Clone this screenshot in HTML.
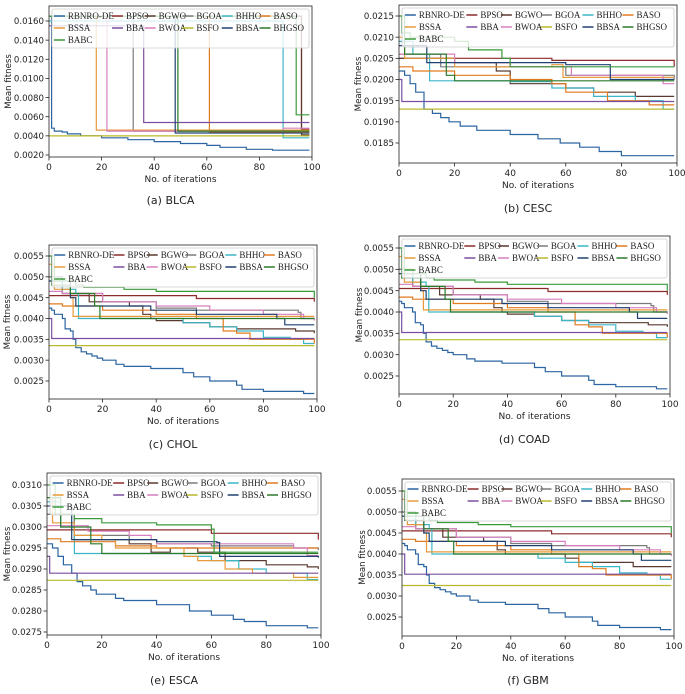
<!DOCTYPE html>
<html><head><meta charset="utf-8"><style>
body{margin:0;background:#fff;}
svg text{font-family:"DejaVu Sans","Liberation Sans",sans-serif;}
svg text.leg{font-family:"Liberation Serif",serif;}
</style></head><body>
<svg id="fig" width="685" height="689" xmlns="http://www.w3.org/2000/svg"></svg>
<script>
const names=["RBNRO-DE","BPSO","BGWO","BGOA","BHHO","BASO","BSSA","BBA","BWOA","BSFO","BBSA","BHGSO","BABC"];
const colors=["#2b64a0","#8c2b2b","#5a3a30","#7a7a7a","#3bb6c6","#e07a1f","#e89a3a","#7b4fa0","#d77fc0","#b8b82a","#1f4070","#2a7a2a","#3a9a3a"];
const xTicks=[0,20,40,60,80,100];
const yTicksA=[0.002,0.004,0.006,0.008,0.010,0.012,0.014,0.016];
const yTicksB=[0.0185,0.019,0.0195,0.02,0.0205,0.021,0.0215];
const yTicksC=[0.0025,0.003,0.0035,0.004,0.0045,0.005,0.0055];
const yTicksE=[0.0275,0.028,0.0285,0.029,0.0295,0.03,0.0305,0.031];
// series order matches names
const dataA=[
[[0,.0165],[1,.0048],[2,.0045],[5,.0044],[7,.0042],[12,.0040],[20,.0038],[30,.0036],[40,.0034],[50,.0032],[60,.0030],[65,.0028],[75,.0026],[85,.0025],[99,.0025]],
[[0,.0165],[96,.0047],[99,.0047]],
[[0,.0165],[96,.0041],[99,.0041]],
[[0,.0165],[32,.0045],[99,.0045]],
[[0,.0160],[89,.0038],[99,.0038]],
[[0,.0165],[61,.0044],[99,.0044]],
[[0,.0165],[18,.0046],[99,.0046]],
[[0,.0155],[36,.0054],[99,.0054]],
[[0,.0165],[22,.0045],[89,.0048],[99,.0048]],
[[0,.0040],[99,.0040]],
[[0,.0165],[48,.0043],[99,.0043]],
[[0,.0165],[49,.0045],[99,.0045]],
[[0,.0165],[94,.0062],[99,.0062]]];
const dataB=[
[[0,.0202],[2,.0201],[4,.0199],[6,.0197],[9,.0193],[12,.0192],[15,.0191],[18,.0190],[22,.0189],[28,.0188],[40,.0187],[50,.0186],[58,.0185],[65,.0184],[72,.0183],[80,.0182],[99,.0182]],
[[0,.0205],[55,.02045],[98,.02045],[99,.0203]],
[[0,.0205],[20,.0204],[35,.0202],[40,.0199],[60,.0198],[70,.0197],[85,.0196],[99,.0196]],
[[0,.0206],[15,.0203],[60,.0201],[75,.0201],[99,.0200]],
[[0,.0209],[5,.0206],[10,.0206],[11,.01997],[40,.01995],[55,.0198],[70,.0196],[85,.0195],[95,.0193],[99,.0193]],
[[0,.0203],[5,.0202],[20,.0201],[40,.0200],[55,.0199],[60,.0197],[75,.0195],[90,.0194],[99,.0194]],
[[0,.0210],[2,.0205],[15,.0205],[20,.0203],[55,.02035],[59,.02005],[99,.02005]],
[[0,.0200],[1,.01948],[99,.01948]],
[[0,.0206],[20,.0204],[40,.0203],[62,.0201],[95,.0199],[99,.0199]],
[[0,.0193],[99,.0193]],
[[0,.0208],[10,.0204],[40,.0204],[60,.02035],[75,.02035],[76,.0200],[99,.0200]],
[[0,.0215],[2,.0206],[16,.0206],[17,.0201],[20,.01997],[99,.01997]],
[[0,.0215],[1,.0211],[4,.0210],[20,.0209],[25,.0207],[35,.0207],[37,.0205],[40,.0203],[99,.0203]]];
const dataC=[
[[0,.00425],[1,.0042],[2,.0041],[5,.0040],[6,.00375],[8,.0037],[9,.0035],[10,.0033],[12,.0032],[14,.00315],[16,.0031],[18,.00305],[20,.0030],[25,.0029],[28,.00285],[38,.0028],[50,.0027],[54,.0026],[60,.0025],[70,.0024],[72,.0023],[80,.00225],[95,.0022],[99,.0022]],
[[0,.00455],[55,.00448],[98,.00448],[99,.0044]],
[[0,.0050],[5,.0046],[15,.0044],[30,.0043],[35,.0041],[38,.0040],[40,.00395],[50,.0039],[60,.0038],[70,.00375],[92,.0037],[99,.00365]],
[[0,.0050],[5,.0046],[20,.0044],[40,.00425],[55,.0042],[93,.00415],[94,.0040],[99,.0040]],
[[0,.0049],[5,.0047],[10,.0046],[11,.0040],[40,.0040],[50,.0039],[60,.0038],[70,.0037],[80,.00355],[90,.0035],[95,.0034],[99,.0034]],
[[0,.00435],[5,.0043],[20,.0042],[40,.0041],[55,.0040],[65,.0037],[70,.00365],[75,.0035],[90,.0035],[99,.0034]],
[[0,.0053],[2,.0047],[8,.0045],[9,.00405],[99,.00405]],
[[0,.0040],[1,.00352],[99,.00352]],
[[0,.00465],[5,.0046],[20,.0044],[40,.0043],[60,.0042],[80,.0041],[95,.0040],[99,.00395]],
[[0,.00335],[99,.00335]],
[[0,.0049],[8,.0045],[10,.0043],[35,.0043],[38,.0042],[55,.0041],[85,.0040],[88,.00385],[99,.00385]],
[[0,.0055],[1,.0048],[8,.0046],[16,.0046],[17,.0043],[19,.0040],[99,.0040]],
[[0,.0055],[2,.0049],[10,.0048],[13,.00475],[28,.0047],[40,.00465],[98,.00465],[99,.0045]]];
const dataD=[
[[0,.00425],[1,.0042],[2,.0041],[5,.0040],[6,.00375],[8,.0037],[9,.0035],[10,.0033],[12,.0032],[14,.00315],[16,.0031],[18,.00305],[20,.0030],[25,.0029],[28,.00285],[38,.0028],[50,.0027],[54,.0026],[60,.0025],[70,.0024],[72,.0023],[80,.00225],[95,.0022],[99,.0022]],
[[0,.00455],[55,.00448],[98,.00448],[99,.0044]],
[[0,.0050],[5,.0046],[15,.0044],[30,.0043],[35,.0041],[38,.0040],[40,.00395],[50,.0039],[60,.0038],[70,.00375],[92,.0037],[99,.00365]],
[[0,.0050],[5,.0046],[20,.0044],[40,.00425],[55,.0042],[93,.00415],[94,.0040],[99,.0040]],
[[0,.0049],[5,.0047],[10,.0046],[11,.0040],[40,.0040],[50,.0039],[60,.0038],[70,.0037],[80,.00355],[90,.0035],[95,.0034],[99,.0034]],
[[0,.00435],[5,.0043],[20,.0042],[40,.0041],[55,.0040],[65,.0037],[70,.00365],[75,.0035],[90,.0035],[99,.0034]],
[[0,.0053],[2,.0047],[8,.0045],[9,.00405],[99,.00405]],
[[0,.0040],[1,.00352],[99,.00352]],
[[0,.00465],[5,.0046],[20,.0044],[40,.0043],[60,.0042],[80,.0041],[95,.0040],[99,.00395]],
[[0,.00335],[99,.00335]],
[[0,.0049],[8,.0045],[10,.0043],[35,.0043],[38,.0042],[55,.0041],[85,.0040],[88,.00385],[99,.00385]],
[[0,.0055],[1,.0048],[8,.0046],[16,.0046],[17,.0043],[19,.0040],[99,.0040]],
[[0,.0055],[2,.0049],[10,.0048],[13,.00475],[28,.0047],[40,.00465],[98,.00465],[99,.0045]]];
const dataE=[
[[0,.0296],[2,.0295],[4,.0293],[6,.0291],[9,.0289],[11,.0287],[13,.0286],[16,.0285],[18,.0284],[25,.0283],[28,.02825],[40,.02815],[52,.0280],[60,.0279],[68,.0278],[72,.02775],[80,.02765],[95,.0276],[99,.0276]],
[[0,.02993],[60,.02985],[98,.02985],[99,.0297]],
[[0,.0303],[10,.0297],[30,.0296],[38,.0294],[45,.0295],[55,.0294],[65,.0292],[80,.0291],[95,.02905],[99,.0290]],
[[0,.0303],[10,.0298],[30,.0297],[40,.0296],[60,.02955],[90,.0295],[99,.02945]],
[[0,.0306],[5,.0300],[10,.02937],[40,.02937],[50,.0293],[60,.0292],[70,.0290],[80,.0289],[95,.02875],[99,.02875]],
[[0,.02972],[5,.02965],[25,.02955],[40,.0295],[99,.0295]],
[[0,.0307],[2,.0301],[10,.0298],[20,.0297],[25,.0295],[50,.0293],[55,.0292],[65,.0290],[75,.0289],[90,.0288],[99,.0288]],
[[0,.0293],[1,.0289],[99,.0289]],
[[0,.03003],[15,.0299],[30,.0298],[38,.0297],[40,.0296],[90,.0295],[95,.02932],[99,.02932]],
[[0,.02873],[99,.02873]],
[[0,.0305],[9,.0297],[30,.0297],[40,.02965],[62,.02963],[63,.0293],[99,.02927]],
[[0,.0307],[5,.0300],[16,.0296],[20,.02937],[99,.02937]],
[[0,.0310],[3,.0303],[10,.0302],[20,.0301],[40,.03005],[60,.02995],[61,.0294],[99,.0294]]];
const dataF=[
[[0,.00425],[1,.0042],[2,.0041],[5,.0040],[6,.00375],[8,.0037],[9,.0035],[10,.0033],[12,.0032],[14,.00315],[16,.0031],[18,.00305],[20,.0030],[25,.0029],[28,.00285],[38,.0028],[50,.0027],[54,.0026],[60,.0025],[70,.0024],[72,.0023],[80,.00225],[95,.0022],[99,.0022]],
[[0,.00455],[55,.00448],[98,.00448],[99,.0044]],
[[0,.0050],[5,.0046],[15,.0044],[30,.0043],[35,.0041],[38,.0040],[50,.0040],[60,.0039],[65,.0038],[85,.0037],[99,.0037]],
[[0,.0050],[5,.0046],[20,.0044],[40,.00425],[55,.0042],[90,.00415],[91,.0040],[99,.0040]],
[[0,.0049],[5,.0047],[10,.0046],[11,.0040],[40,.0040],[50,.0039],[60,.0038],[70,.0037],[80,.00355],[90,.0035],[95,.0034],[99,.0034]],
[[0,.00435],[5,.0043],[20,.0042],[40,.0041],[55,.0040],[65,.0037],[70,.00365],[75,.0035],[90,.0035],[99,.0034]],
[[0,.0053],[2,.0047],[8,.0045],[9,.00405],[99,.00405]],
[[0,.0040],[1,.00352],[99,.00352]],
[[0,.00465],[5,.0046],[20,.0044],[40,.0043],[60,.0042],[80,.0041],[95,.0040],[99,.00395]],
[[0,.00325],[99,.00325]],
[[0,.0049],[8,.0045],[10,.0043],[35,.0043],[38,.0042],[55,.0041],[85,.0040],[88,.00385],[99,.00385]],
[[0,.0055],[1,.0048],[8,.0046],[16,.0046],[17,.0043],[19,.0040],[99,.0040]],
[[0,.0055],[2,.0049],[10,.0048],[13,.00475],[28,.0047],[40,.00465],[98,.00465],[99,.0045]]];

const panels=[
 {id:"a",title:"(a) BLCA",data:dataA,yt:yTicksA,dec:4,L:49,R:312,T:6,B:157,x0:49,x1:312,v0:0.016,p0:21,v1:0.002,p1:155,ylx:4,ty:204},
 {id:"b",title:"(b) CESC",data:dataB,yt:yTicksB,dec:4,L:399,R:677,T:5,B:163,x0:399,x1:677,v0:0.0215,p0:16,v1:0.0185,p1:143,ylx:354,ty:212},
 {id:"c",title:"(c) CHOL",data:dataC,yt:yTicksC,dec:4,L:49,R:317,T:245,B:399,x0:49,x1:317,v0:0.0055,p0:256,v1:0.0025,p1:381,ylx:3,ty:448},
 {id:"d",title:"(d) COAD",data:dataD,yt:yTicksC,dec:4,L:399,R:670,T:236,B:394,x0:399,x1:670,v0:0.0055,p0:248,v1:0.0025,p1:376,ylx:355,ty:443},
 {id:"e",title:"(e) ESCA",data:dataE,yt:yTicksE,dec:4,L:47,R:321,T:473,B:635,x0:47,x1:321,v0:0.031,p0:485,v1:0.0275,p1:632,ylx:3,ty:684},
 {id:"f",title:"(f) GBM",data:dataF,yt:yTicksC,dec:4,L:402,R:674,T:479,B:636,x0:402,x1:674,v0:0.0055,p0:491,v1:0.0025,p1:617,ylx:358,ty:684}
];
const NS="http://www.w3.org/2000/svg";
const svg=document.getElementById('fig');
function mk(tag,attrs,parent){const e=document.createElementNS(NS,tag);for(const k in attrs)e.setAttribute(k,attrs[k]);(parent||svg).appendChild(e);return e;}
const legFr=[.062,.288,.415,.562,.715,.862];
panels.forEach(p=>{
 const g=mk('g',{});
 
 
 const xs=v=>p.x0+(v/100)*(p.x1-p.x0);
 const ys=v=>p.p0+(v-p.v0)*(p.p1-p.p0)/(p.v1-p.v0);
 const cid='clip'+p.id;
 const cp=mk('clipPath',{id:cid},g);mk('rect',{x:p.L,y:p.T,width:p.R-p.L,height:p.B-p.T},cp);
 const sg=mk('g',{'clip-path':'url(#'+cid+')'},g);
 p.data.forEach((s,i)=>{
  let d='';
  s.forEach((pt,j)=>{const X=xs(pt[0]).toFixed(1),Y=ys(pt[1]).toFixed(1);
   if(j===0)d+='M'+X+' '+Y;else{d+=' H'+X+' V'+Y;}});
  const path=mk('path',{d:d,fill:'none',stroke:colors[i],'stroke-width':1.2},sg);
  
  
 });
 const frame=mk('rect',{x:p.L,y:p.T,width:p.R-p.L,height:p.B-p.T,fill:'none',stroke:'#222','stroke-width':0.8},g);
 
 
 xTicks.forEach(t=>{const X=xs(t);mk('line',{x1:X,x2:X,y1:p.B,y2:p.B+3.5,stroke:'#222','stroke-width':0.8},g);
  const tx=mk('text',{x:X,y:p.B+13,'font-size':9,'text-anchor':'middle',fill:'#222'},g);tx.textContent=t;
  
  });
 p.yt.forEach(t=>{const Y=ys(t);mk('line',{x1:p.L-3.5,x2:p.L,y1:Y,y2:Y,stroke:'#222','stroke-width':0.8},g);
  const tx=mk('text',{x:p.L-5,y:Y+3.2,'font-size':8.6,'text-anchor':'end',fill:'#222'},g);tx.textContent=t.toFixed(p.dec);
  
  });
 const xl=mk('text',{x:(p.L+p.R)/2,y:p.B+25,'font-size':9,'text-anchor':'middle',fill:'#222'},g);xl.textContent='No. of iterations';
 
 
 const yl=mk('text',{x:0,y:0,'font-size':8.6,'text-anchor':'middle',fill:'#222',transform:'translate('+(p.ylx+7)+','+((p.T+p.B)/2)+') rotate(-90)'},g);yl.textContent='Mean fitness';
 
 
 const lg=mk('g',{},g);
 
 
 const lx=p.L+3,lw=p.R-p.L-6,ly=p.T+3;
 mk('rect',{x:lx,y:ly,width:lw,height:39,fill:'#fff','fill-opacity':0.8,stroke:'#ccc','stroke-width':0.8,rx:2},lg);
 names.forEach((n,i)=>{const col=i<12?i%6:0,row=Math.floor(i/6);
  const tx0=lx+legFr[col]*lw,ty0=ly+10+row*12;
  mk('line',{x1:tx0-14,x2:tx0-3,y1:ty0-3,y2:ty0-3,stroke:colors[i],'stroke-width':1.5},lg);
  const t=mk('text',{x:tx0,y:ty0,'font-size':9,fill:'#222','class':'leg'},lg);t.textContent=n;
  
  });
 const tt=mk('text',{x:(p.L+p.R)/2-10,y:p.ty,'font-size':11,'text-anchor':'middle',fill:'#222'},g);tt.textContent=p.title;
 
 
});
</script>
</body></html>
